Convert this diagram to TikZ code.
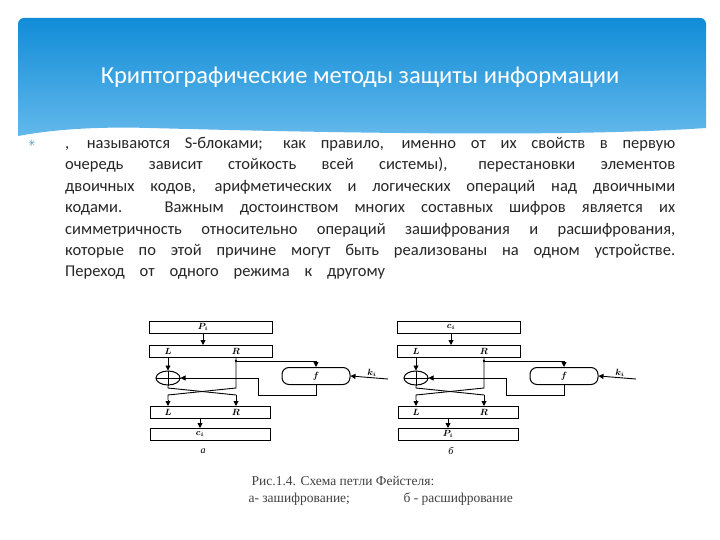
\documentclass[tikz,border=0pt]{standalone}
\usepackage{fontspec}
\usepackage{bm}
\setmainfont{Carlito}
\newfontfamily\capfont{Liberation Serif}
\newfontfamily\symfont{DejaVu Sans}
\usetikzlibrary{arrows.meta,shapes.geometric}
\begin{document}
\begin{tikzpicture}[x=1pt,y=-1pt,
  bx/.style={draw,line width=1pt},
  ln/.style={line width=0.9pt},
  ar/.style={line width=0.9pt,-{Triangle[length=5pt,width=5pt]}},
  lb/.style={font=\fontsize{9}{10}\selectfont},
  bodyline/.style={anchor=base west,inner sep=0,font=\fontsize{16.5}{17}\selectfont,text=black!85}]
\useasboundingbox (0,0) rectangle (720,540);
\fill[white] (0,0) rectangle (720,540);
\shade[top color={rgb,255:red,16;green,140;blue,215},bottom color={rgb,255:red,100;green,185;blue,235}]
  (18,24) [rounded corners=6pt] -- (18,18) -- (706,18) [sharp corners] -- (706,128)
  .. controls (560,138) and (300,132) .. (150,128) .. controls (80,126) and (40,132) .. (18,136) -- cycle;
\node[text=white,font=\fontsize{24.5}{26}\selectfont] (title) at (360,77) {Криптографические методы защиты информации};
\node[text={rgb,255:red,70;green,150;blue,200},font=\fontsize{9}{10}\selectfont\symfont] (bul) at (32,143) {✳};
\foreach \t [count=\i] in {{, называются S-блоками; как правило, именно от их свойств в первую},
 {очередь зависит стойкость всей системы), перестановки элементов},
 {двоичных кодов, арифметических и логических операций над двоичными},
 {кодами. Важным достоинством многих составных шифров является их},
 {симметричность относительно операций зашифрования и расшифрования,},
 {которые по этой причине могут быть реализованы на одном устройстве.}}
 \node[bodyline] (l\i) at (65,{127+\i*21.4}) {\makebox[610pt][s]{\t}};
\node[bodyline] (l7) at (65,{127+7*21.4}) {\makebox[320pt][s]{Переход от одного режима к другому}};
\foreach \dx/\tp/\bt/\nm in {0/P_i/c_i/a, 248/c_i/P_i/b}{
 \begin{scope}[xshift=\dx]
  \node[bx,minimum width=123pt,minimum height=12pt,inner sep=0] (t\nm) at (211,327) {};
  \node[lb] (tl\nm) at (203,327) {$\bm{\tp}$};
  \node[bx,minimum width=123pt,minimum height=12pt,inner sep=0] (s\nm) at (211,351) {};
  \node[lb] (sl\nm) at (168,351) {$\bm{L}$};
  \node[lb] (sr\nm) at (236,351) {$\bm{R}$};
  \draw[ar] (203,333) -- (203,345);
  \node[ellipse,draw,line width=1pt,minimum width=24pt,minimum height=14pt,inner sep=0] (x\nm) at (168,378) {};
  \draw[line width=0.8pt] (x\nm.north) -- (x\nm.south) (x\nm.west) -- (x\nm.east);
  \node[draw,line width=1pt,rounded corners=7pt,minimum width=68pt,minimum height=17pt,inner sep=0] (f\nm) at (316,376) {};
  \node[lb] at (316,376) {$\bm{f}$};
  \node[lb] (k\nm) at (372,373) {$\bm{k_i}$};
  \draw[ar] (388,379) -- (f\nm.east);
  \node[bx,minimum width=120pt,minimum height=12pt,inner sep=0] (u\nm) at (210,412) {};
  \node[lb] (ul\nm) at (168,412) {$\bm{L}$};
  \node[lb] (ur\nm) at (236,412) {$\bm{R}$};
  \node[bx,minimum width=120pt,minimum height=12pt,inner sep=0] (v\nm) at (210,434) {};
  \node[lb] (vl\nm) at (200,434) {$\bm{\bt}$};
  \draw[ar] (200,418) -- (200,428);
  \draw[ar] (168,357) -- (x\nm.north);
  \draw[ln] (236,357) -- (236,388) -- (168,395) -- (168,400);
  \draw[ar] (168,400) -- (168,406);
  \draw[ln] (x\nm.south) -- (168,388) -- (236,395);
  \draw[ar] (236,395) -- (236,406);
  \fill (236,361) circle (1.3pt);
  \draw[ar] (236,361) -- (316,361) -- (f\nm.north);
  \draw[ln] (f\nm.south) -- (316,395) -- (258,395) -- (258,378);
  \draw[ar] (258,378) -- (x\nm.east);
 \end{scope}}
\node[font=\itshape\fontsize{10}{10}\selectfont\capfont] (la) at (203,451) {а};
\node[font=\itshape\fontsize{10}{10}\selectfont\capfont] (lbb) at (451,451) {б};
\node[font=\fontsize{13.5}{14}\selectfont\capfont,text=black!75] (c1) at (343,481) {Рис.1.4. Схема петли Фейстеля:};
\node[anchor=base west,font=\fontsize{13.5}{14}\selectfont\capfont,text=black!75] (c2) at (245,502) {а- зашифрование;};
\node[anchor=base west,font=\fontsize{13.5}{14}\selectfont\capfont,text=black!75] (c3) at (400,502) {б - расшифрование};
\end{tikzpicture}
\end{document}
